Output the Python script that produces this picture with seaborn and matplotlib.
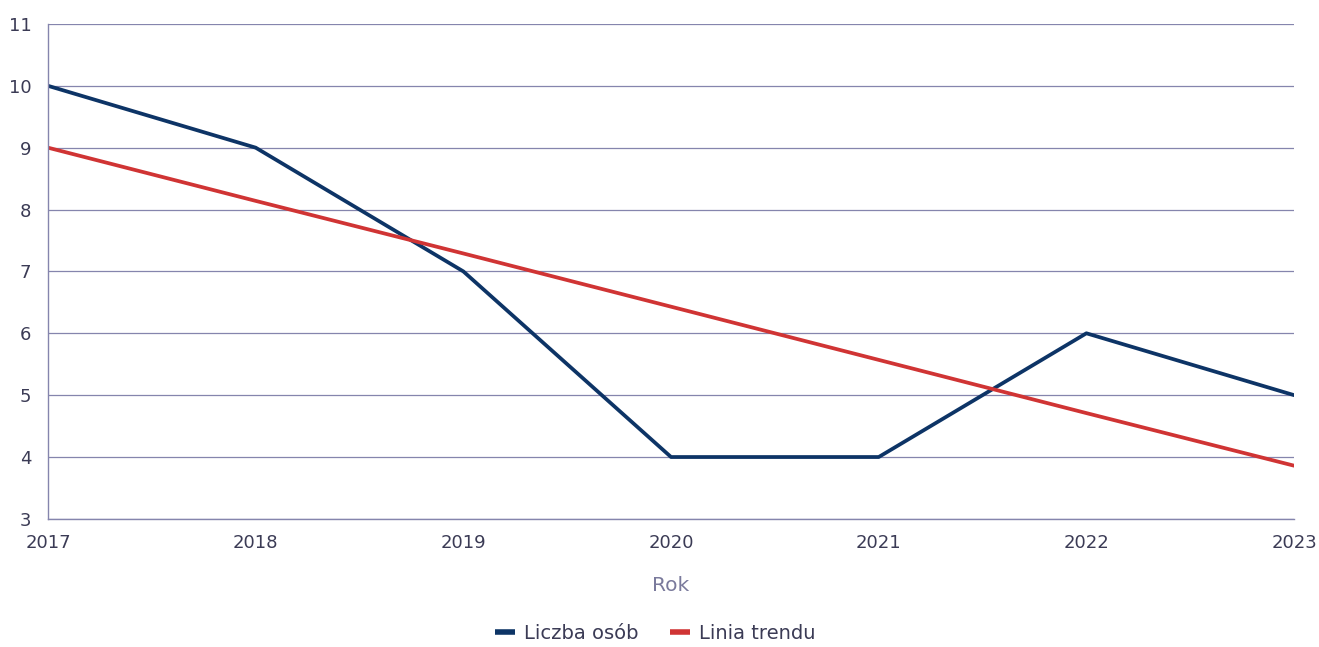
import numpy as np
import matplotlib
matplotlib.use("Agg")
import matplotlib.pyplot as plt
import pandas as pd
import seaborn as sb

years = [2017, 2018, 2019, 2020, 2021, 2022, 2023]
liczba_osob = [10, 9, 7, 4, 4, 6, 5]
linia_trendu = [9.0, 8.14, 7.29, 6.43, 5.57, 4.71, 3.86]

df = pd.DataFrame({"Rok": years, "Liczba osób": liczba_osob, "Linia trendu": linia_trendu})
long = df.melt(id_vars="Rok", var_name="seria", value_name="wartosc")

sb.set_style("white")
plt.rcParams["font.family"] = ["DejaVu Sans"]

grid_c = "#8585ad"
text_c = "#3b3b55"

fig = plt.figure(figsize=(13.19, 6.47), dpi=100)
ax = fig.add_axes([0.0364, 0.198, 0.9447, 0.765])

sb.lineplot(data=long, x="Rok", y="wartosc", hue="seria",
            palette={"Liczba osób": "#0d3466", "Linia trendu": "#d03434"},
            linewidth=2.7, ax=ax, legend=True)

ax.set_xlim(2017, 2023)
ax.set_ylim(3, 11)
ax.set_yticks(range(3, 12))
ax.set_xticks(years)
ax.yaxis.grid(True, color=grid_c, linewidth=0.9)
ax.xaxis.grid(False)
ax.set_axisbelow(True)
for s in ["top", "right"]:
    ax.spines[s].set_visible(False)
for s in ["left", "bottom"]:
    ax.spines[s].set_color(grid_c)
    ax.spines[s].set_linewidth(1.0)

ax.tick_params(axis="both", length=0, labelsize=13, colors=text_c)
ax.tick_params(axis="y", pad=12)
ax.tick_params(axis="x", pad=11)
ax.set_ylabel("")
ax.set_xlabel("Rok", fontsize=14.5, color="#7a7a9c", labelpad=17)

handles, labels = ax.get_legend_handles_labels()
ax.get_legend().remove()
leg = fig.legend(handles, labels, loc="center", bbox_to_anchor=(0.497, 0.021),
                 ncol=2, frameon=False, fontsize=14, handlelength=1.0,
                 columnspacing=1.6, handletextpad=0.5)
for t in leg.get_texts():
    t.set_color(text_c)
for l in leg.get_lines():
    l.set_linewidth(4)
    l.set_solid_capstyle("butt")

fig.savefig("out.png", dpi=100)
